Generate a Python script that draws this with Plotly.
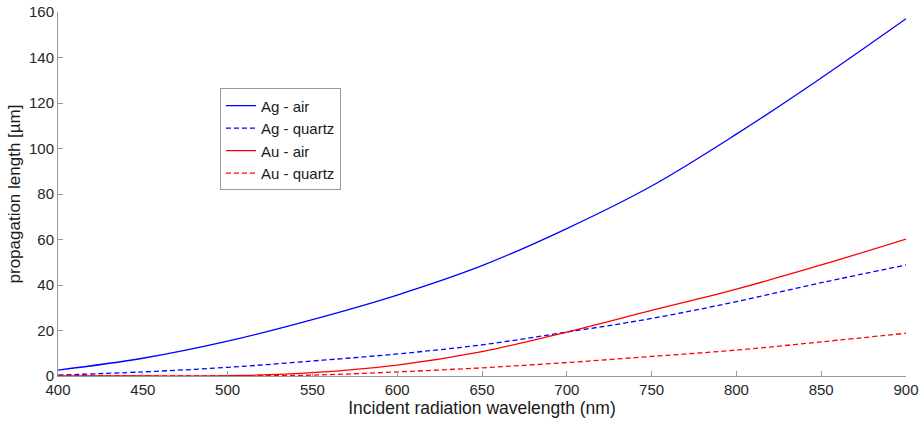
import plotly.graph_objects as go

wavelength = [400, 450, 500, 550, 600, 650, 700, 750, 800, 850, 900]
ag_air = [2.6, 7.8, 15.3, 24.8, 35.6, 48.5, 64.8, 83.5, 106.3, 131.0, 157.0]
ag_quartz = [0.4, 1.8, 3.8, 6.6, 9.7, 13.7, 19.3, 25.3, 32.7, 41.0, 48.8]
au_air = [0.0, 0.0, 0.1, 1.5, 4.8, 10.7, 19.3, 28.8, 38.2, 48.8, 60.2]
au_quartz = [0.0, 0.0, 0.05, 0.4, 1.8, 3.6, 5.9, 8.6, 11.4, 15.0, 18.8]

x_ticks = [400, 450, 500, 550, 600, 650, 700, 750, 800, 850, 900]
y_ticks = [0, 20, 40, 60, 80, 100, 120, 140, 160]

series = [
    ("Ag - air", ag_air, "#0000FF", "solid"),
    ("Ag - quartz", ag_quartz, "#0000FF", "5px,3px"),
    ("Au - air", au_air, "#FF0000", "solid"),
    ("Au - quartz", au_quartz, "#FF0000", "5px,3px"),
]

fig = go.Figure()
for name, vals, color, dash in series:
    fig.add_trace(go.Scatter(
        x=wavelength, y=vals, name=name, mode="lines",
        line=dict(color=color, width=1.3, dash=dash, shape="spline", smoothing=1.0),
    ))

axis_common = dict(
    showgrid=False, zeroline=False, showline=True, linecolor="#999999", linewidth=1,
    ticks="inside", ticklen=5, tickcolor="#999999",
    tickfont=dict(family="Liberation Sans, Arial, sans-serif", size=15, color="#262626"),
    mirror=False, automargin=False,
)

fig.update_layout(
    width=921, height=421,
    margin=dict(l=58, r=15, t=12, b=45),
    paper_bgcolor="white", plot_bgcolor="white",
    font=dict(family="Liberation Sans, Arial, sans-serif", color="#262626"),
    xaxis=dict(range=[400, 900], tickvals=x_ticks, ticklabelstandoff=0,
               title=dict(text="Incident radiation wavelength (nm)", font=dict(size=17.5, color="#1a1a1a"), standoff=0),
               **axis_common),
    yaxis=dict(range=[0, 160], tickvals=y_ticks,
               title=dict(text="propagation length [µm]", font=dict(size=17, color="#1a1a1a"), standoff=4),
               **axis_common),
    legend=dict(x=0.191, y=0.79, xanchor="left", yanchor="top",
                bgcolor="white", bordercolor="#999999", borderwidth=1,
                font=dict(size=15, color="#1a1a1a"), tracegroupgap=0,
                itemwidth=30),
    showlegend=True,
)

fig.write_html("out.html")
